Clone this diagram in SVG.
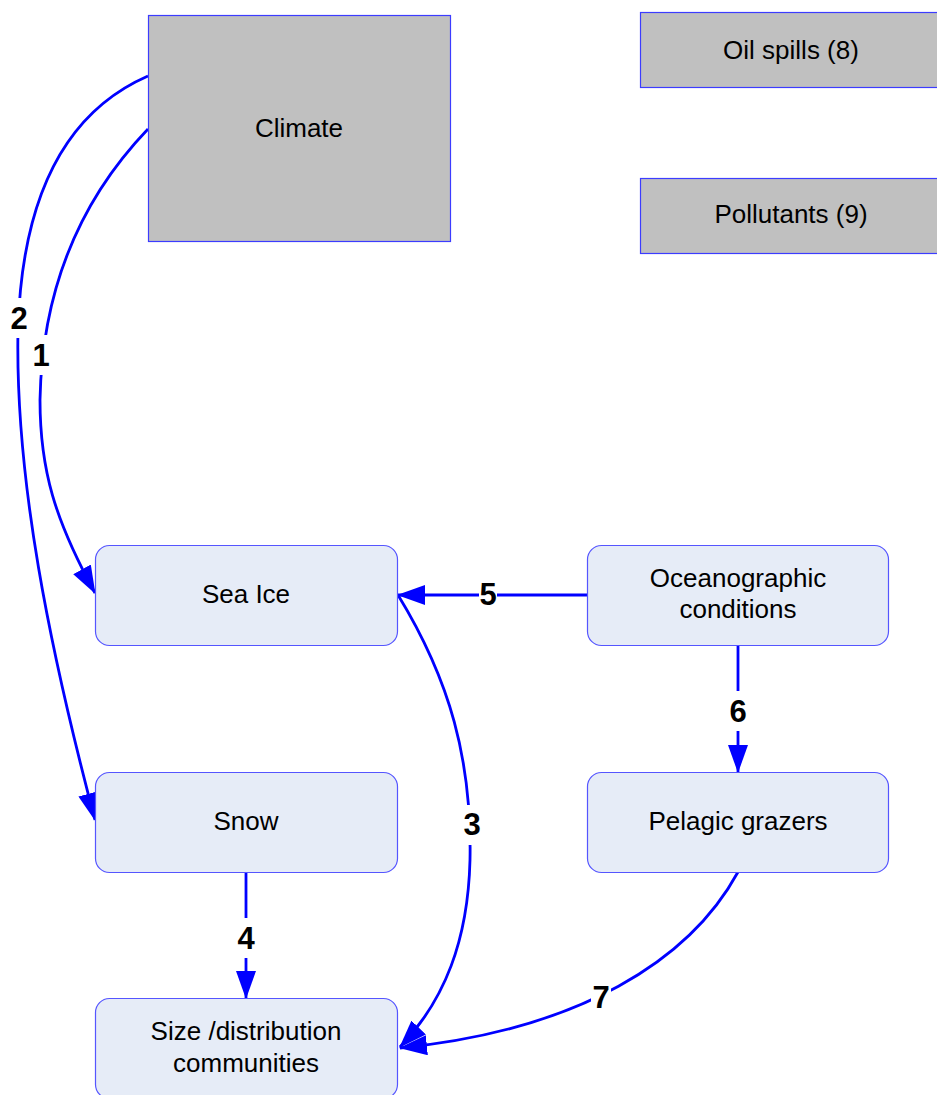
<svg xmlns="http://www.w3.org/2000/svg" width="937" height="1095" viewBox="0 0 937 1095">
  <style>
    .box { fill: #c0c0c0; stroke: #3c3cff; stroke-width: 1.2; }
    .rbox { fill: #e6ecf7; stroke: #5555ff; stroke-width: 1.2; }
    .txt { font-family: "Liberation Sans", Arial, sans-serif; font-size: 26px; fill: #000; text-anchor: middle; }
    .edge { fill: none; stroke: #0000ff; stroke-width: 2.8; marker-end: url(#arrow); }
    .lbl { font-family: "Liberation Sans", Arial, sans-serif; font-size: 31px; font-weight: bold; fill: #000; text-anchor: middle; }
    .lblbg { fill: #ffffff; }
  </style>
  <defs>
    <marker id="arrow" viewBox="0 0 28 20" markerWidth="28" markerHeight="20" refX="27" refY="10" orient="auto" markerUnits="userSpaceOnUse">
      <path d="M0,0 L28,10 L0,20 z" fill="#0000ff"/>
    </marker>
  </defs>
  <rect width="937" height="1095" fill="#ffffff"/>

  <!-- connectors -->
  <g id="connectors">
    <path id="e1" class="edge" d="M148,129 C80,200 42,290 40,400 C40,470 55,520 95,593"/>
    <path id="e2" class="edge" d="M148,76 C70,110 22,190 18,330 C15,480 50,650 95,820"/>
    <path id="e3" class="edge" d="M398,595 C450,680 472,760 470,860 C468,940 445,1000 400,1047"/>
    <path id="e4" class="edge" d="M246,872 L246,998"/>
    <path id="e5" class="edge" d="M587,595 L398,595"/>
    <path id="e6" class="edge" d="M738,645 L738,772"/>
    <path id="e7" class="edge" d="M738,872 C690,960 580,1030 400,1048"/>

    <!-- edge numbers on white backing -->
    <rect class="lblbg" x="10" y="298" width="19" height="40"/>
    <text class="lbl" x="19" y="329">2</text>
    <rect class="lblbg" x="32" y="335" width="19" height="40"/>
    <text class="lbl" x="41" y="366">1</text>
    <rect class="lblbg" x="463" y="805" width="19" height="40"/>
    <text class="lbl" x="472" y="835">3</text>
    <rect class="lblbg" x="237" y="918" width="19" height="40"/>
    <text class="lbl" x="246" y="949">4</text>
    <rect class="lblbg" x="479" y="575" width="18" height="40"/>
    <text class="lbl" x="488" y="605">5</text>
    <rect class="lblbg" x="729" y="691" width="19" height="40"/>
    <text class="lbl" x="738" y="722">6</text>
    <rect class="lblbg" x="591" y="977" width="20" height="40"/>
    <text class="lbl" x="601" y="1008">7</text>
  </g>

  <g id="climate">
    <rect class="box" x="148.5" y="15.5" width="302" height="226"/>
    <text class="txt" x="299" y="137">Climate</text>
  </g>
  <g id="oil-spills">
    <rect class="box" x="640.5" y="12.5" width="302" height="75"/>
    <text class="txt" x="791" y="59">Oil spills (8)</text>
  </g>
  <g id="pollutants">
    <rect class="box" x="640.5" y="178.5" width="302" height="75"/>
    <text class="txt" x="791" y="223">Pollutants (9)</text>
  </g>
  <g id="sea-ice">
    <rect class="rbox" x="95.5" y="545.5" width="302" height="100" rx="14"/>
    <text class="txt" x="246" y="603">Sea Ice</text>
  </g>
  <g id="oceanographic">
    <rect class="rbox" x="587.5" y="545.5" width="301" height="100" rx="14"/>
    <text class="txt" x="738" y="587">Oceanographic</text>
    <text class="txt" x="738" y="618">conditions</text>
  </g>
  <g id="snow">
    <rect class="rbox" x="95.5" y="772.5" width="302" height="100" rx="14"/>
    <text class="txt" x="246" y="830">Snow</text>
  </g>
  <g id="pelagic-grazers">
    <rect class="rbox" x="587.5" y="772.5" width="301" height="100" rx="14"/>
    <text class="txt" x="738" y="830">Pelagic grazers</text>
  </g>
  <g id="size-distribution">
    <rect class="rbox" x="95.5" y="998.5" width="302" height="100" rx="14"/>
    <text class="txt" x="246" y="1040">Size /distribution</text>
    <text class="txt" x="246" y="1072">communities</text>
  </g>
</svg>
